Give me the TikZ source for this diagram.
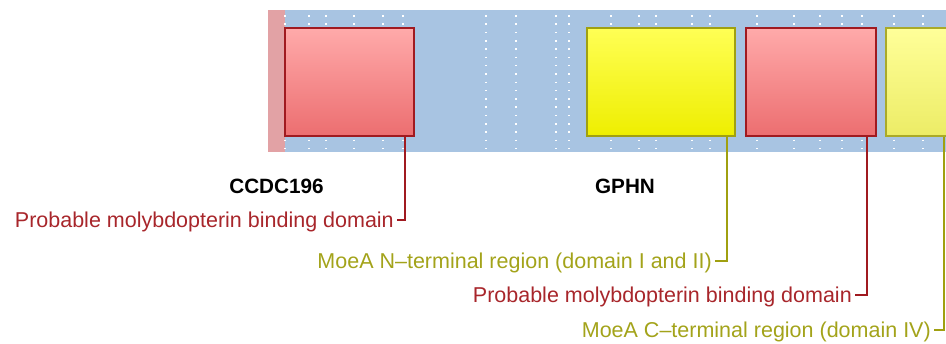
\documentclass[tikz,border=0pt]{standalone}
\usepackage{fontspec}
\setmainfont{Liberation Sans}
\definecolor{bandblue}{RGB}{168,196,226}
\definecolor{stripred}{RGB}{226,162,165}
\definecolor{redtop}{RGB}{255,170,170}
\definecolor{redbot}{RGB}{236,110,112}
\definecolor{redline}{RGB}{160,26,32}
\definecolor{ytop}{RGB}{255,255,85}
\definecolor{ybot}{RGB}{238,238,0}
\definecolor{yline}{RGB}{160,160,16}
\definecolor{lytop}{RGB}{255,255,153}
\definecolor{lybot}{RGB}{236,236,102}
\definecolor{redtext}{RGB}{168,38,43}
\definecolor{olivetext}{RGB}{163,163,26}
\tikzset{
  dombox/.style={draw, line width=1.8pt, minimum height=108pt, inner sep=0pt, anchor=north west},
  redbox/.style={dombox, draw=redline, top color=redtop, bottom color=redbot},
  yelbox/.style={dombox, draw=yline, top color=ytop, bottom color=ybot},
  lyelbox/.style={dombox, draw=yline!90!white, top color=lytop, bottom color=lybot},
  dotline/.style={draw=white, line width=1.5pt, dash pattern=on 1.5pt off 6.8pt},
  lbl/.style={font=\fontsize{21.5}{25}\selectfont, inner sep=0pt, anchor=base east},
  gene/.style={font=\fontsize{20.7}{24}\selectfont\bfseries, inner sep=0pt, anchor=base},
  redconn/.style={draw=redline, line width=1.5pt},
  olconn/.style={draw=yline, line width=1.5pt},
}
\begin{document}
\begin{tikzpicture}[x=1pt,y=-1pt]
\useasboundingbox (0,0) rectangle (946,344);
\clip (0,0) rectangle (946,344);
% band
\fill[bandblue] (268,10) rectangle (946,152);
\fill[stripred] (268,10) rectangle (285,152);
\foreach \x in {285,309,326,354,383,403,486,516,556,569,611,639,656,692,710,757,794,820,842,862,894,923}
  \draw[dotline] (\x,15.2) -- (\x,152);
% boxes
\node[redbox, minimum width=129pt] (r1) at (284,27) {};
\node[yelbox, minimum width=148pt] (y1) at (586,27) {};
\node[redbox, minimum width=130pt] (r2) at (745,27) {};
\node[lyelbox, minimum width=130pt] (y2) at (885,27) {};
% gene names
\node[gene] (g1) at (276.5,194) {CCDC196};
\node[gene] (g2) at (625,194) {GPHN};
% labels
\node[lbl, text=redtext] (t1) at (394,227.7) {Probable molybdopterin binding domain};
\node[lbl, text=olivetext] (t2) at (712,268.7) {MoeA N–terminal region (domain I and II)};
\node[lbl, text=redtext] (t3) at (852,302.7) {Probable molybdopterin binding domain};
\node[lbl, text=olivetext] (t4) at (931,337.7) {MoeA C–terminal region (domain IV)};
% connector anchors
\coordinate (c1) at (405,220);
\coordinate (c2) at (727,261);
\coordinate (c3) at (867,295);
\coordinate (c4) at (944,330);
\draw[redconn] (r1.south -| c1) -- (c1) -- ([xshift=3pt]t1.base east |- c1);
\draw[olconn] (y1.south -| c2) -- (c2) -- ([xshift=3pt]t2.base east |- c2);
\draw[redconn] (r2.south -| c3) -- (c3) -- ([xshift=3pt]t3.base east |- c3);
\draw[olconn] (y2.south -| c4) -- (c4) -- ([xshift=3pt]t4.base east |- c4);
\end{tikzpicture}
\end{document}
